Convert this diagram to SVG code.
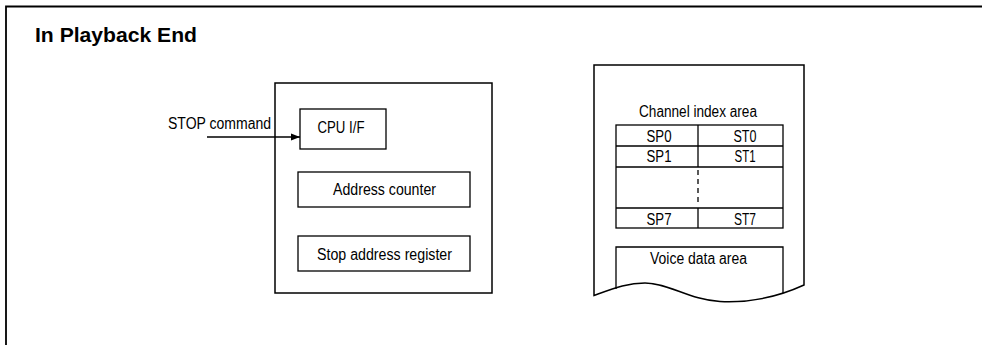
<svg xmlns="http://www.w3.org/2000/svg" width="982" height="345" viewBox="0 0 982 345">
<style>
.ln{fill:none;stroke:#000;stroke-width:1.3}
.bx{fill:#fff;stroke:#000;stroke-width:1.3}
.t{font-family:"Liberation Sans",Arial,sans-serif;font-size:16px;fill:#000}
.c{text-anchor:middle}
.title{font-family:"Liberation Sans",Arial,sans-serif;font-size:21px;font-weight:bold;fill:#000}
</style>
<defs>
<marker id="ah" markerWidth="10" markerHeight="8" refX="9" refY="4" orient="auto" markerUnits="userSpaceOnUse">
<path d="M0,0.5 L9,4 L0,7.5 Z" fill="#000"/>
</marker>
</defs>
<rect width="982" height="345" fill="#fff"/>
<path d="M6,345 V6.5 H982" fill="none" stroke="#000" stroke-width="1.8"/>
<text class="title" x="35" y="42" textLength="162" lengthAdjust="spacingAndGlyphs">In Playback End</text>

<g id="chip">
<rect class="bx" x="275" y="83" width="217" height="210" style="stroke-width:1.5"/>
</g>
<g id="cpu_if">
<rect class="bx" x="300" y="109" width="86" height="40"/>
<text class="t c" x="341" y="133" textLength="47" lengthAdjust="spacingAndGlyphs">CPU I/F</text>
</g>
<g id="address_counter">
<rect class="bx" x="298" y="172" width="172" height="35"/>
<text class="t" x="333" y="195" textLength="103" lengthAdjust="spacingAndGlyphs">Address counter</text>
</g>
<g id="stop_address_register">
<rect class="bx" x="298" y="236" width="172" height="35"/>
<text class="t" x="317" y="260" textLength="135" lengthAdjust="spacingAndGlyphs">Stop address register</text>
</g>
<g id="stop_command">
<text class="t" x="168" y="129" textLength="103" lengthAdjust="spacingAndGlyphs">STOP command</text>
</g>

<g id="memory">
<path class="bx" d="M594,295.5 V65 H804 V285 C780,296 750,303 720,301.5 C690,300 668,283 645,283 C628,283 615,288 594,295.5 Z" style="stroke-width:1.5"/>
<text class="t" x="639" y="117" textLength="118" lengthAdjust="spacingAndGlyphs">Channel index area</text>
</g>
<g id="channel_index_table">
<rect class="ln" x="616" y="125" width="167" height="103"/>
<line class="ln" x1="616" y1="146" x2="783" y2="146"/>
<line class="ln" x1="616" y1="167" x2="783" y2="167"/>
<line class="ln" x1="616" y1="208" x2="783" y2="208"/>
<line class="ln" x1="698" y1="125" x2="698" y2="167"/>
<line class="ln" x1="698" y1="208" x2="698" y2="228"/>
<line class="ln" x1="698" y1="170" x2="698" y2="206" style="stroke-dasharray:5,4"/>
<text class="t c" x="659" y="142" textLength="25" lengthAdjust="spacingAndGlyphs">SP0</text>
<text class="t c" x="745" y="142" textLength="23" lengthAdjust="spacingAndGlyphs">ST0</text>
<text class="t c" x="659" y="162" textLength="25" lengthAdjust="spacingAndGlyphs">SP1</text>
<text class="t c" x="745" y="162" textLength="21" lengthAdjust="spacingAndGlyphs">ST1</text>
<text class="t c" x="659" y="225" textLength="25" lengthAdjust="spacingAndGlyphs">SP7</text>
<text class="t c" x="745" y="225" textLength="22" lengthAdjust="spacingAndGlyphs">ST7</text>
</g>
<g id="voice_data_area">
<path class="ln" d="M616,289 V247 H783 V293"/>
<text class="t" x="650" y="264" textLength="97" lengthAdjust="spacingAndGlyphs">Voice data area</text>
</g>

<g id="connectors">
<line class="ln" x1="207" y1="137" x2="300" y2="137" marker-end="url(#ah)"/>
</g>
</svg>
